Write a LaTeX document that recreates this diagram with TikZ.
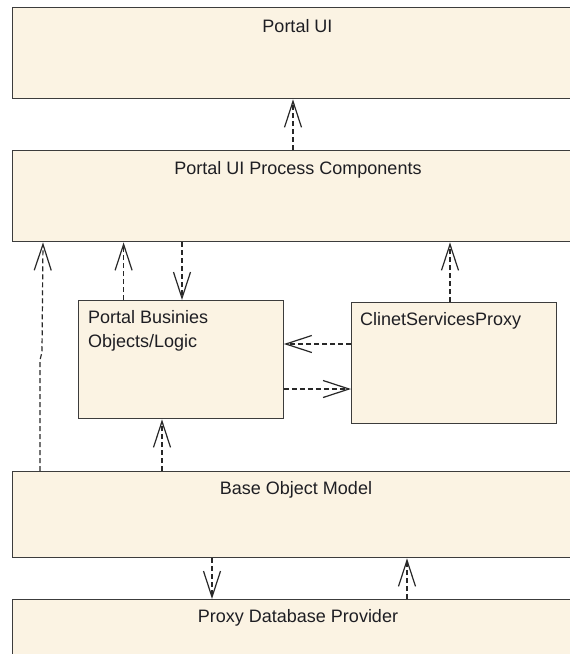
\documentclass[tikz,border=0pt]{standalone}
\usepackage{fontspec}
\setmainfont{Liberation Sans}
\usetikzlibrary{arrows.meta}
\definecolor{boxfill}{RGB}{251,243,227}
\definecolor{boxline}{RGB}{60,60,60}
\definecolor{txt}{RGB}{30,30,35}
\definecolor{dep}{RGB}{40,40,40}
\tikzset{
  comp/.style={draw=boxline, line width=1.4pt, fill=boxfill, rectangle, inner sep=0pt, anchor=north west},
  ctitle/.style={text=txt, font=\fontsize{18}{24}\selectfont, inner sep=0pt},
  depline/.style={draw=dep, line width=1.2pt, dash pattern=on 5pt off 3pt,
    -{Straight Barb[length=26pt, width=17pt, line width=1.2pt]}},
}
\begin{document}
\begin{tikzpicture}[x=1pt, y=-1pt]
\useasboundingbox (0,0) rectangle (570,654);
\clip (0,0) rectangle (570,654);
\fill[white] (0,0) rectangle (570,654);
% components
\node[comp, minimum width=571pt, minimum height=91pt] (ui) at (12,7) {};
\node[ctitle] (uit) at (297.5,26) {Portal UI};
\node[comp, minimum width=571pt, minimum height=91pt] (pupc) at (12,150) {};
\node[ctitle] (pupct) at (298,170) {Portal UI Process Components};
\node[comp, minimum width=204.5pt, minimum height=118pt] (pbol) at (78,300) {};
\node[ctitle, anchor=north west, align=left, font=\fontsize{18}{24}\selectfont] (pbolt) at (88,310) {Portal Businies\\Objects/Logic};
\node[comp, minimum width=204.5pt, minimum height=121pt] (csp) at (351,302) {};
\node[ctitle, anchor=west] (cspt) at (360,321) {ClinetServicesProxy};
\node[comp, minimum width=571pt, minimum height=86pt] (bom) at (12,471) {};
\node[ctitle] (bomt) at (296,490) {Base Object Model};
\node[comp, minimum width=571pt, minimum height=90pt] (pdp) at (12,599) {};
\node[ctitle] (pdpt) at (298,618) {Proxy Database Provider};
% x positions of connectors
\coordinate (xa) at (293,0);
\coordinate (xb) at (123.6,0);
\coordinate (xc) at (182,0);
\coordinate (xd) at (450,0);
\coordinate (xe) at (162,0);
\coordinate (xf) at (212,0);
\coordinate (xg) at (407,0);
\coordinate (ya) at (0,344);
\coordinate (yb) at (0,389);
\coordinate (la) at (40,360);
\coordinate (lb) at (42,352);
\coordinate (lc) at (40,0);
\coordinate (ld) at (43,0);
% dependencies
\draw[depline] (pupc.north -| xa) -- (ui.south -| xa);
\draw[depline] (bom.north -| lc) -- (la) -- (lb) -- (pupc.south -| ld);
\draw[depline] (pbol.north -| xb) -- (pupc.south -| xb);
\draw[depline] (pupc.south -| xc) -- (pbol.north -| xc);
\draw[depline] (csp.north -| xd) -- (pupc.south -| xd);
\draw[depline] (csp.west |- ya) -- (pbol.east |- ya);
\draw[depline] (pbol.east |- yb) -- (csp.west |- yb);
\draw[depline] (bom.north -| xe) -- (pbol.south -| xe);
\draw[depline] (bom.south -| xf) -- (pdp.north -| xf);
\draw[depline] (pdp.north -| xg) -- (bom.south -| xg);
\end{tikzpicture}
\end{document}
